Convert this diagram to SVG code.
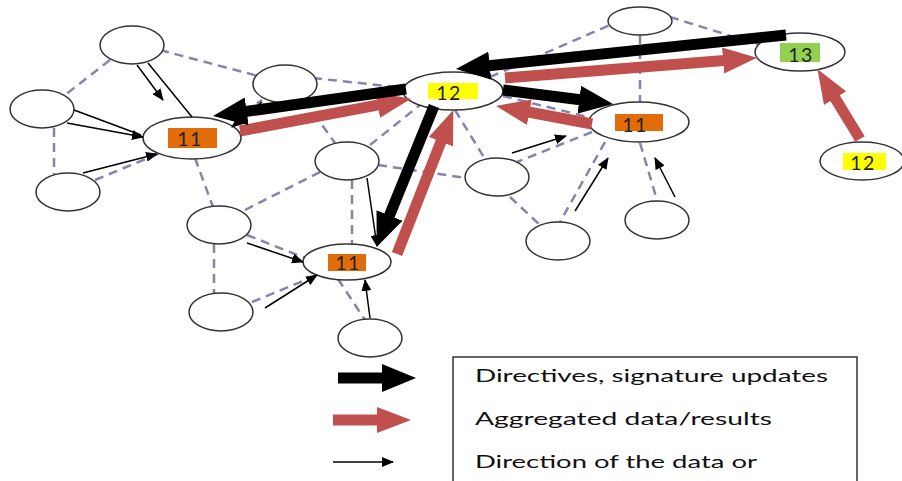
<svg xmlns="http://www.w3.org/2000/svg" width="902" height="481" viewBox="0 0 902 481">
<defs>
<style>
.dash{stroke:#8684ad;stroke-width:2.5;stroke-dasharray:9 6;fill:none}
.nd{fill:#fff;stroke:#333;stroke-width:1.5}
.thin{stroke:#000;stroke-width:1.5;fill:none}
.thinA{stroke:#000;stroke-width:1.5;fill:none;marker-end:url(#ht)}
.blk{stroke:#000;stroke-width:11;fill:none;marker-end:url(#hb)}
.red{stroke:#c0504d;stroke-width:11;fill:none;marker-end:url(#hr)}
.lbl{font-family:Lato,"Liberation Sans",sans-serif;font-size:19.5px;letter-spacing:1.5px;fill:#222;text-anchor:middle}
.leg{font-family:Lato,"Liberation Sans",sans-serif;font-size:18px;fill:#111}
.or{fill:#e36c0a}.ye{fill:#ffff00}.gr{fill:#92d050}
</style>
<marker id="hb" markerUnits="userSpaceOnUse" markerWidth="34" markerHeight="28" refX="1" refY="14" orient="auto"><path d="M0,0 L34,14 L0,28 z" fill="#000"/></marker>
<marker id="hr" markerUnits="userSpaceOnUse" markerWidth="34" markerHeight="26" refX="1" refY="13" orient="auto"><path d="M0,0 L34,13 L0,26 z" fill="#c0504d"/></marker>
<marker id="ht" markerUnits="userSpaceOnUse" markerWidth="12" markerHeight="10" refX="11" refY="5" orient="auto"><path d="M0,0 L12,5 L0,10 z" fill="#000"/></marker>
</defs>
<rect width="902" height="481" fill="#fff"/>
<g id="links">
<line class="dash" x1="160" y1="50" x2="258" y2="76"/>
<line class="dash" x1="110" y1="60" x2="65" y2="95"/>
<line class="dash" x1="54" y1="128" x2="54" y2="175"/>
<line class="dash" x1="95" y1="180" x2="160" y2="153"/>
<line class="dash" x1="195" y1="158" x2="213" y2="207"/>
<line class="dash" x1="245" y1="210" x2="320" y2="172"/>
<line class="dash" x1="232" y1="120" x2="262" y2="100"/>
<line class="dash" x1="313" y1="78" x2="405" y2="88"/>
<line class="dash" x1="305" y1="101" x2="335" y2="143"/>
<line class="dash" x1="370" y1="145" x2="420" y2="105"/>
<line class="dash" x1="352" y1="180" x2="352" y2="244"/>
<line class="dash" x1="378" y1="165" x2="466" y2="178"/>
<line class="dash" x1="214" y1="244" x2="214" y2="293"/>
<line class="dash" x1="247" y1="235" x2="305" y2="258"/>
<line class="dash" x1="252" y1="302" x2="313" y2="277"/>
<line class="dash" x1="338" y1="279" x2="365" y2="320"/>
<line class="dash" x1="455" y1="110" x2="485" y2="159"/>
<line class="dash" x1="503" y1="96" x2="592" y2="118"/>
<line class="dash" x1="490" y1="77" x2="610" y2="25"/>
<line class="dash" x1="640" y1="35" x2="640" y2="102"/>
<line class="dash" x1="670" y1="17" x2="760" y2="45"/>
<line class="dash" x1="592" y1="132" x2="517" y2="162"/>
<line class="dash" x1="605" y1="142" x2="560" y2="222"/>
<line class="dash" x1="640" y1="143" x2="657" y2="200"/>
<line class="dash" x1="510" y1="197" x2="540" y2="225"/>
</g>
<g id="nA"><ellipse class="nd" cx="132" cy="45" rx="32" ry="19"/></g>
<g id="nB"><ellipse class="nd" cx="42" cy="109" rx="32" ry="19"/></g>
<g id="nC"><ellipse class="nd" cx="68" cy="192" rx="32" ry="19"/></g>
<g id="nD"><ellipse class="nd" cx="285" cy="84" rx="32" ry="19"/></g>
<g id="nE"><ellipse class="nd" cx="347" cy="161" rx="32" ry="19"/></g>
<g id="nF"><ellipse class="nd" cx="497" cy="177" rx="32" ry="19"/></g>
<g id="nG"><ellipse class="nd" cx="640" cy="21" rx="32" ry="14"/></g>
<g id="nH"><ellipse class="nd" cx="657" cy="220" rx="32" ry="19"/></g>
<g id="nI"><ellipse class="nd" cx="558" cy="241" rx="32" ry="19"/></g>
<g id="nJ"><ellipse class="nd" cx="219" cy="225" rx="32" ry="19"/></g>
<g id="nK"><ellipse class="nd" cx="221" cy="312" rx="32" ry="19"/></g>
<g id="nL"><ellipse class="nd" cx="370" cy="338" rx="32" ry="19"/></g>
<g id="n11a"><ellipse class="nd" cx="192" cy="138" rx="49" ry="21"/><rect class="or" x="168" y="128" width="49" height="20"/><text class="lbl" x="190" y="146">11</text></g>
<g id="n12"><ellipse class="nd" cx="453" cy="91" rx="50" ry="19"/><rect class="ye" x="428" y="83" width="50" height="16"/><text class="lbl" x="449" y="100">12</text></g>
<g id="n11b"><ellipse class="nd" cx="639" cy="122" rx="50" ry="20"/><rect class="or" x="615" y="114" width="48" height="17"/><text class="lbl" x="635" y="132">11</text></g>
<g id="n13"><ellipse class="nd" cx="800" cy="52" rx="45" ry="19"/><rect class="gr" x="780" y="43" width="40" height="19"/><text class="lbl" x="801" y="62">13</text></g>
<g id="n12b"><ellipse class="nd" cx="862" cy="161" rx="42" ry="19"/><rect class="ye" x="843" y="153" width="43" height="17"/><text class="lbl" x="863" y="170">12</text></g>
<g id="n11c"><ellipse class="nd" cx="347" cy="262" rx="44" ry="18"/><rect class="or" x="328" y="254" width="38" height="17"/><text class="lbl" x="348" y="270">11</text></g>
<g id="arrows">
<line class="thinA" x1="137" y1="65" x2="163" y2="100"/>
<line class="thin" x1="148" y1="63" x2="192" y2="117"/>
<line class="thinA" x1="67" y1="123" x2="143" y2="137"/>
<line class="thin" x1="74" y1="110" x2="141" y2="135"/>
<line class="thinA" x1="83" y1="173" x2="157" y2="154"/>
<line class="thinA" x1="262" y1="102" x2="232" y2="127"/>
<line class="thinA" x1="367" y1="178" x2="377" y2="246"/>
<line class="thinA" x1="247" y1="243" x2="303" y2="262"/>
<line class="thinA" x1="265" y1="308" x2="317" y2="275"/>
<line class="thinA" x1="370" y1="318" x2="365" y2="280"/>
<line class="thinA" x1="512" y1="153" x2="566" y2="136"/>
<line class="thinA" x1="575" y1="211" x2="608" y2="158"/>
<line class="thinA" x1="675" y1="197" x2="655" y2="158"/>
<line class="red" x1="240" y1="131" x2="378.6" y2="104.9"/>
<line class="red" x1="397" y1="254" x2="441.3" y2="140.8"/>
<line class="red" x1="592" y1="124" x2="528.4" y2="112"/>
<line class="red" x1="505" y1="78" x2="724.1" y2="60.5"/>
<line class="red" x1="860" y1="139" x2="834.6" y2="97.3"/>
<line class="blk" x1="786" y1="35" x2="488.8" y2="65.7"/>
<line class="blk" x1="406" y1="89" x2="245.7" y2="111.5"/>
<line class="blk" x1="503" y1="90" x2="580.3" y2="99.8"/>
<line class="blk" x1="434" y1="106" x2="389.1" y2="216.4"/>
</g>
<g id="legend">
<rect x="453" y="357" width="404" height="130" fill="none" stroke="#333" stroke-width="1.5"/>
<line class="blk" x1="338" y1="378" x2="383" y2="378"/>
<line class="red" x1="333" y1="420" x2="378" y2="420"/>
<line class="thinA" x1="333" y1="462" x2="393" y2="462"/>
<text class="leg" x="475" y="382" textLength="353" lengthAdjust="spacingAndGlyphs">Directives, signature updates</text>
<text class="leg" x="475" y="425" textLength="297" lengthAdjust="spacingAndGlyphs">Aggregated data/results</text>
<text class="leg" x="475" y="468" textLength="282" lengthAdjust="spacingAndGlyphs">Direction of the data or</text>
</g>
</svg>
